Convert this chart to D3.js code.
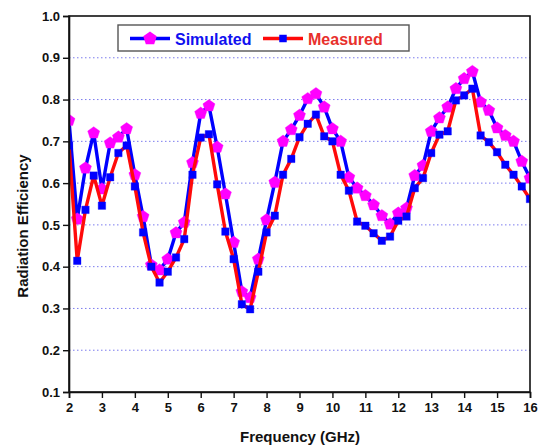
<!DOCTYPE html>
<html>
<head>
<meta charset="utf-8">
<script src="https://cdn.jsdelivr.net/npm/d3@7"></script>
<style>
  html, body { margin: 0; padding: 0; background: #fff; }
  svg { display: block; font-family: "Liberation Sans", Arial, sans-serif; }
</style>
</head>
<body>
<div id="chart"></div>
<script>
// Radiation efficiency vs frequency: simulated vs measured

const FREQ = [
  2.0, 2.25, 2.5, 2.75, 3.0, 3.25, 3.5, 3.75, 4.0, 4.25, 4.5, 4.75,
  5.0, 5.25, 5.5, 5.75, 6.0, 6.25, 6.5, 6.75, 7.0, 7.25, 7.5, 7.75,
  8.0, 8.25, 8.5, 8.75, 9.0, 9.25, 9.5, 9.75, 10.0, 10.25, 10.5, 10.75,
  11.0, 11.25, 11.5, 11.75, 12.0, 12.25, 12.5, 12.75, 13.0, 13.25, 13.5, 13.75,
  14.0, 14.25, 14.5, 14.75, 15.0, 15.25, 15.5, 15.75, 16.0
];

const SIMULATED = [
  0.750, 0.514, 0.636, 0.720, 0.586, 0.696, 0.710, 0.730, 0.620, 0.520, 0.404, 0.392,
  0.418, 0.481, 0.506, 0.649, 0.767, 0.785, 0.686, 0.574, 0.458, 0.340, 0.326, 0.418,
  0.512, 0.602, 0.700, 0.728, 0.762, 0.802, 0.814, 0.782, 0.730, 0.700, 0.614, 0.588,
  0.570, 0.548, 0.522, 0.502, 0.528, 0.540, 0.618, 0.642, 0.724, 0.756, 0.782, 0.826,
  0.850, 0.867, 0.794, 0.774, 0.732, 0.714, 0.700, 0.652, 0.612
];

const MEASURED = [
  0.690, 0.414, 0.536, 0.618, 0.546, 0.614, 0.672, 0.690, 0.592, 0.482, 0.400, 0.362,
  0.388, 0.422, 0.466, 0.620, 0.709, 0.717, 0.597, 0.484, 0.418, 0.310, 0.298, 0.388,
  0.482, 0.522, 0.620, 0.658, 0.710, 0.742, 0.764, 0.712, 0.700, 0.620, 0.582, 0.508,
  0.498, 0.480, 0.462, 0.472, 0.510, 0.520, 0.588, 0.612, 0.672, 0.716, 0.724, 0.798,
  0.810, 0.826, 0.714, 0.698, 0.674, 0.644, 0.620, 0.592, 0.562
];

const X_TICKS = [2, 3, 4, 5, 6, 7, 8, 9, 10, 11, 12, 13, 14, 15, 16];
const Y_TICKS = [0.1, 0.2, 0.3, 0.4, 0.5, 0.6, 0.7, 0.8, 0.9, 1.0];
const GRID_VALUES = [0.2, 0.3, 0.4, 0.5, 0.6, 0.7, 0.8, 0.9];

const SERIES = [
  { name: "Simulated", values: SIMULATED, line: "#0000ff", marker: "#ff00ff", shape: "pentagon", text: "#1010f0" },
  { name: "Measured",  values: MEASURED,  line: "#ff0a0a", marker: "#0000ff", shape: "square",   text: "#e8302c" },
];

const W = 545, H = 446;
const m = { top: 16, right: 15, bottom: 54, left: 69 };
const iw = W - m.left - m.right;
const ih = H - m.top - m.bottom;

// custom pentagon symbol for d3.symbol
const symbolPentagon = {
  draw(ctx, size) {
    const r = Math.sqrt(size / 2.3776);
    for (let i = 0; i < 5; i++) {
      const a = -Math.PI / 2 + i * 2 * Math.PI / 5;
      const x = r * Math.cos(a), y = r * Math.sin(a);
      if (i === 0) ctx.moveTo(x, y); else ctx.lineTo(x, y);
    }
    ctx.closePath();
  }
};

const svg = d3.select("#chart").append("svg")
  .attr("width", W)
  .attr("height", H);

svg.append("defs").append("clipPath")
  .attr("id", "plot-clip")
  .append("rect")
    .attr("x", 0).attr("y", 0)
    .attr("width", iw).attr("height", ih);

const g = svg.append("g")
  .attr("transform", `translate(${m.left},${m.top})`);

const xScale = d3.scaleLinear().domain([2, 16]).range([0, iw]);
const yScale = d3.scaleLinear().domain([0.1, 1.0]).range([ih, 0]);

// dotted horizontal grid
g.selectAll(".grid-h")
  .data(GRID_VALUES)
  .join("line")
    .attr("class", "grid-h")
    .attr("x1", 0).attr("x2", iw)
    .attr("y1", d => yScale(d)).attr("y2", d => yScale(d))
    .attr("stroke", "#7b7bee")
    .attr("stroke-width", 1)
    .attr("stroke-dasharray", "1.5,2.5");

const plot = g.append("g").attr("clip-path", "url(#plot-clip)");

// series: line then markers
SERIES.forEach(s => {
  const pts = FREQ.map((f, i) => ({ f, v: s.values[i] }));

  plot.append("path")
    .datum(pts)
    .attr("d", d3.line().x(d => xScale(d.f)).y(d => yScale(d.v)))
    .attr("fill", "none")
    .attr("stroke", s.line)
    .attr("stroke-width", 3.4)
    .attr("stroke-linejoin", "round");

  const sym = s.shape === "pentagon"
    ? d3.symbol().type(symbolPentagon).size(95)
    : d3.symbol().type(d3.symbolSquare).size(56);

  plot.selectAll(`.mk-${s.shape}`)
    .data(pts)
    .join("path")
      .attr("class", `mk-${s.shape}`)
      .attr("transform", d => `translate(${xScale(d.f)},${yScale(d.v)})`)
      .attr("d", sym)
      .attr("fill", s.marker)
      .attr("stroke", s.marker)
      .attr("stroke-opacity", 0.35)
      .attr("stroke-width", 1);
});

// frame
g.append("rect")
  .attr("x", 0).attr("y", 0)
  .attr("width", iw).attr("height", ih)
  .attr("fill", "none")
  .attr("stroke", "#111")
  .attr("stroke-width", 1.6);

// axes
const xAxisG = g.append("g")
  .attr("transform", `translate(0,${ih})`)
  .call(d3.axisBottom(xScale).tickValues(X_TICKS).tickSize(6).tickPadding(5).tickFormat(d3.format("d")));

const yAxisG = g.append("g")
  .call(d3.axisLeft(yScale).tickValues(Y_TICKS).tickSize(6).tickPadding(3).tickFormat(d3.format(".1f")));

[xAxisG, yAxisG].forEach(ax => {
  ax.select(".domain").attr("stroke", "#111").attr("stroke-width", 1.6);
  ax.selectAll(".tick line").attr("stroke", "#111").attr("stroke-width", 1.4);
  ax.selectAll("text")
    .attr("fill", "#111")
    .attr("font-size", "13px")
    .attr("font-weight", "bold")
    .attr("font-family", "'Liberation Sans', Arial, sans-serif");
});

// axis titles
svg.append("text")
  .attr("x", m.left + iw / 2 + 0.5)
  .attr("y", 442)
  .attr("text-anchor", "middle")
  .attr("font-size", "15px")
  .attr("font-weight", "bold")
  .attr("fill", "#111")
  .text("Frequency (GHz)");

svg.append("text")
  .attr("transform", "rotate(-90)")
  .attr("x", -226)
  .attr("y", 28)
  .attr("text-anchor", "middle")
  .attr("font-size", "15px")
  .attr("font-weight", "bold")
  .attr("fill", "#111")
  .text("Radiation Efficiency");

// legend
const lg = svg.append("g");
lg.append("rect")
  .attr("x", 118).attr("y", 25)
  .attr("width", 291).attr("height", 26)
  .attr("fill", "#fff")
  .attr("stroke", "#555")
  .attr("stroke-width", 1.4);

const LEGEND_X = [130, 263];
SERIES.forEach((s, i) => {
  const x0 = LEGEND_X[i], yc = 38.5;
  lg.append("line")
    .attr("x1", x0).attr("x2", x0 + 40)
    .attr("y1", yc).attr("y2", yc)
    .attr("stroke", s.line)
    .attr("stroke-width", 3.4);
  const sym = s.shape === "pentagon"
    ? d3.symbol().type(symbolPentagon).size(120)
    : d3.symbol().type(d3.symbolSquare).size(56);
  lg.append("path")
    .attr("transform", `translate(${x0 + 20},${yc})`)
    .attr("d", sym)
    .attr("fill", s.marker);
  lg.append("text")
    .attr("x", x0 + 45)
    .attr("y", yc + 6)
    .attr("font-size", "16px")
    .attr("font-weight", "bold")
    .attr("fill", s.text)
    .text(s.name);
});
</script>
</body>
</html>
